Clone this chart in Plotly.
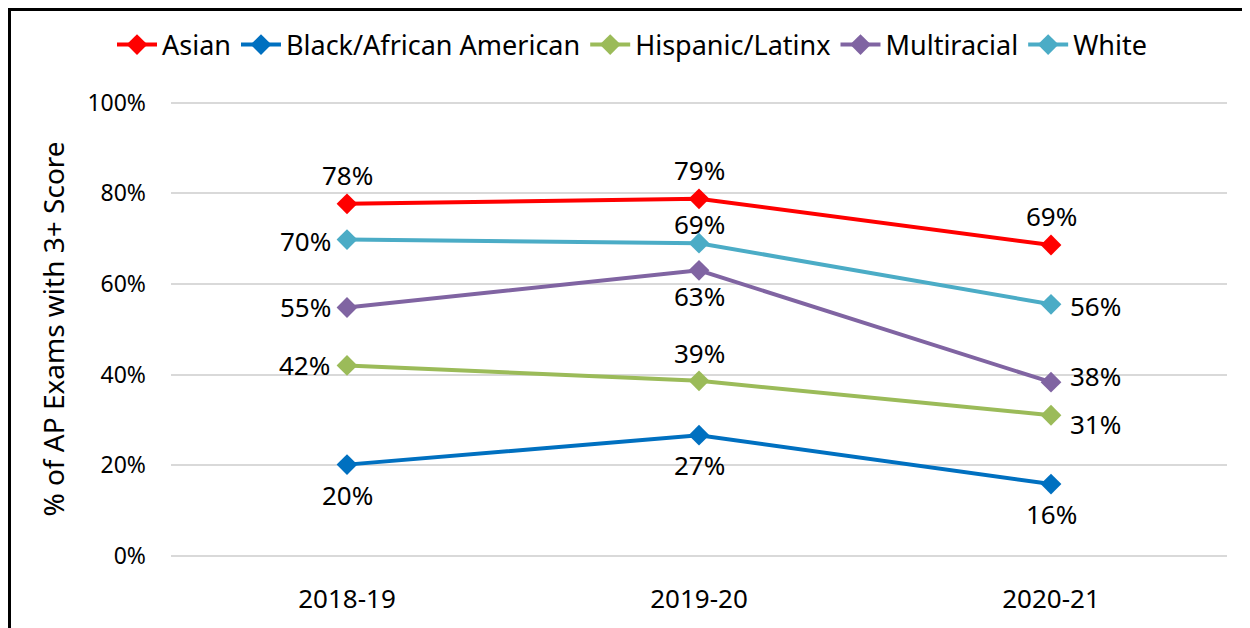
import plotly.graph_objects as go

years = ["2018-19", "2019-20", "2020-21"]
asian = [0.777, 0.788, 0.686]
black = [0.201, 0.266, 0.158]
hispanic = [0.420, 0.386, 0.310]
multiracial = [0.548, 0.630, 0.383]
white = [0.698, 0.690, 0.555]

# label placement per point: (xanchor, xshift, yshift)
UP = ("center", 0, 29)
DOWN = ("center", 0, -30)
series = [
    ("Asian", asian, "#FF0000", [UP, UP, UP]),
    ("Black/African American", black, "#0070C0", [DOWN, DOWN, DOWN]),
    ("Hispanic/Latinx", hispanic, "#9BBB59", [("right", -15, 0), ("center", 0, 28), ("left", 17, -9)]),
    ("Multiracial", multiracial, "#8064A2", [("right", -14, 0), ("center", 0, -26), ("left", 17, 6)]),
    ("White", white, "#4BACC6", [("right", -14, -1), ("center", 0, 19), ("left", 17, -2)]),
]

FONT = "Noto Sans"
W, H = 1242, 620
L, T, B, R = 163, 93, 71, 23
PW = W - L - R
PH = H - T - B


def px(x):
    return (x - L) / PW


def py(y):
    return (H - B - y) / PH


fig = go.Figure()
annotations = []
for name, vals, color, pos in series:
    fig.add_trace(go.Scatter(
        x=years, y=vals, name=name, mode="lines+markers",
        line=dict(color=color, width=4),
        marker=dict(symbol="diamond", size=16, color=color),
        cliponaxis=False,
    ))
    for xv, v, (xa, xs, ys) in zip(years, vals, pos):
        annotations.append(dict(
            x=xv, y=v, xref="x", yref="y", text=f"{round(v*100):.0f}%",
            showarrow=False, xanchor=xa, yanchor="middle", xshift=xs, yshift=ys,
            font=dict(family=FONT, size=26, color="#000000"),
        ))

fig.update_layout(
    width=W, height=H,
    margin=dict(l=L, r=R, t=T, b=B),
    paper_bgcolor="white", plot_bgcolor="white",
    font=dict(family=FONT, color="#000000"),
    showlegend=True,
    annotations=annotations,
    legend=dict(orientation="h", x=px(624), xanchor="center", y=py(37), yanchor="middle",
                font=dict(family=FONT, size=27), itemwidth=40, tracegroupgap=0,
                bgcolor="rgba(0,0,0,0)"),
    xaxis=dict(showgrid=False, showline=False, zeroline=False,
               tickfont=dict(family=FONT, size=26), ticklabelstandoff=24,
               range=[-0.5, 2.5]),
    yaxis=dict(range=[-0.003, 1.004], tickvals=[0, 0.2, 0.4, 0.6, 0.8, 1.0],
               tickformat=".0%", showgrid=True, gridcolor="#D9D9D9", gridwidth=2,
               zeroline=False, showline=False,
               tickfont=dict(family=FONT, size=23), ticklabelstandoff=24,
               title=dict(text="% of AP Exams with 3+ Score",
                          font=dict(family=FONT, size=28), standoff=14)),
    shapes=[dict(type="rect", xref="paper", yref="paper",
                 x0=px(1.5), x1=px(W + 5),
                 y0=py(H + 5), y1=py(1.5),
                 line=dict(color="black", width=3), layer="above")],
)

fig.write_html("out.html")
